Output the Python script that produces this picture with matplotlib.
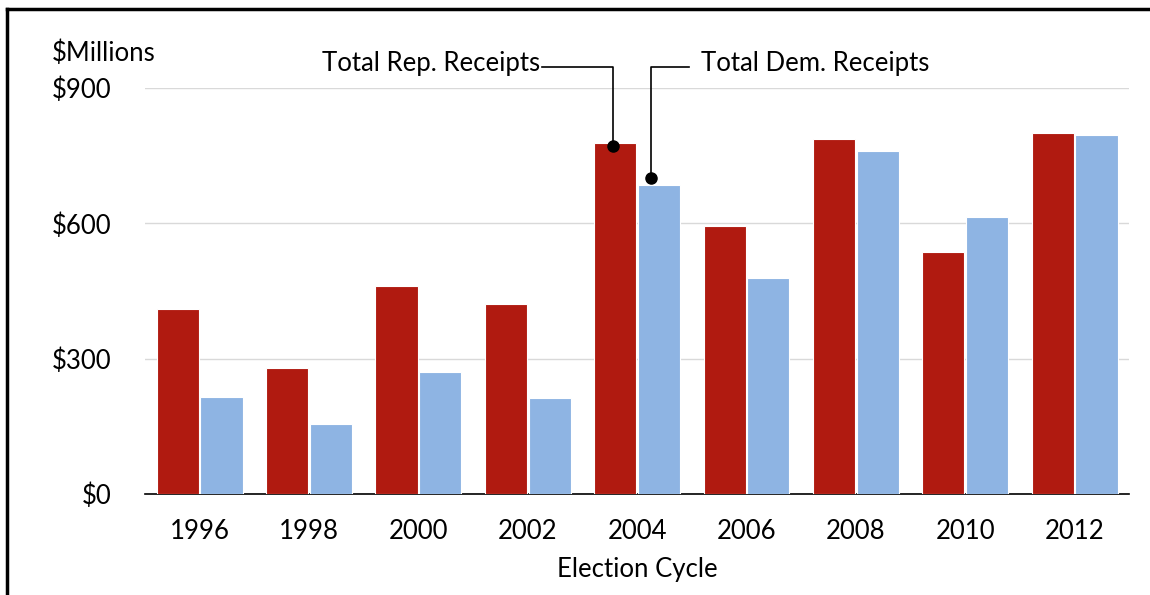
import numpy as np
import matplotlib
matplotlib.use('Agg')
import matplotlib.pyplot as plt
from matplotlib.lines import Line2D

plt.rcParams['font.family'] = ['Lato', 'DejaVu Sans']

years = ['1996', '1998', '2000', '2002', '2004', '2006', '2008', '2010', '2012']
rep = [410, 279, 461, 421, 779, 594, 787, 537, 800]
dem = [215, 155, 270, 213, 685, 479, 760, 614, 796]
yticks = [0, 300, 600, 900]
ytick_labels = ['$0', '$300', '$600', '$900']

red = '#B01A10'
blue = '#8EB4E3'
fs = 18.5

fig = plt.figure(figsize=(11.5, 5.95), dpi=100)
ax = fig.add_axes([0.126, 0.1697, 0.856, 0.6823])

x = np.arange(len(years))
w = 0.385
ax.bar(x - 0.2, rep, w, color=red, edgecolor='white', linewidth=0.8, zorder=3)
ax.bar(x + 0.2, dem, w, color=blue, edgecolor='white', linewidth=0.8, zorder=3)

ax.set_xlim(-0.5, len(years) - 0.5)
ax.set_ylim(0, 900)
ax.set_yticks(yticks)
ax.set_yticklabels(ytick_labels, fontsize=fs)
ax.set_xticks(x)
ax.set_xticklabels(years, fontsize=fs)
ax.tick_params(axis='both', length=0)
ax.tick_params(axis='y', pad=24)
ax.tick_params(axis='x', pad=18)
ax.grid(axis='y', color='#D9D9D9', linewidth=1, zorder=0)
for s in ['top', 'right', 'left']:
    ax.spines[s].set_visible(False)
ax.spines['bottom'].set_linewidth(1.2)
ax.set_xlabel('Election Cycle', fontsize=fs, labelpad=9)

ax.text(-0.0945, 1.085, '$Millions', transform=ax.transAxes, fontsize=fs,
        ha='left', va='center')

# callouts for 2004
i = years.index('2004')
ann_y = 947
rx, ry = i - 0.22, rep[i] - 8
dx, dy = i + 0.125, dem[i] + 15
ax.plot([i - 1 + 0.13, rx, rx], [ann_y, ann_y, ry], color='black', lw=1.2,
        clip_on=False, zorder=5)
ax.plot([rx], [ry], 'o', color='black', ms=8, clip_on=False, zorder=6)
ax.plot([i + 0.47, dx, dx], [ann_y, ann_y, dy], color='black', lw=1.2,
        clip_on=False, zorder=5)
ax.plot([dx], [dy], 'o', color='black', ms=8, clip_on=False, zorder=6)
ax.text(i - 1 + 0.11, ann_y + 8, 'Total Rep. Receipts', fontsize=fs,
        ha='right', va='center')
ax.text(i + 0.58, ann_y + 8, 'Total Dem. Receipts', fontsize=fs,
        ha='left', va='center')

# frame lines (left and top)
fig.add_artist(Line2D([0.0061, 0.0061], [0, 0.985], color='black', lw=2.5,
                      transform=fig.transFigure))
fig.add_artist(Line2D([0.0061, 1.0], [0.985, 0.985], color='black', lw=2.5,
                      transform=fig.transFigure))

fig.savefig('out.png', dpi=100)
